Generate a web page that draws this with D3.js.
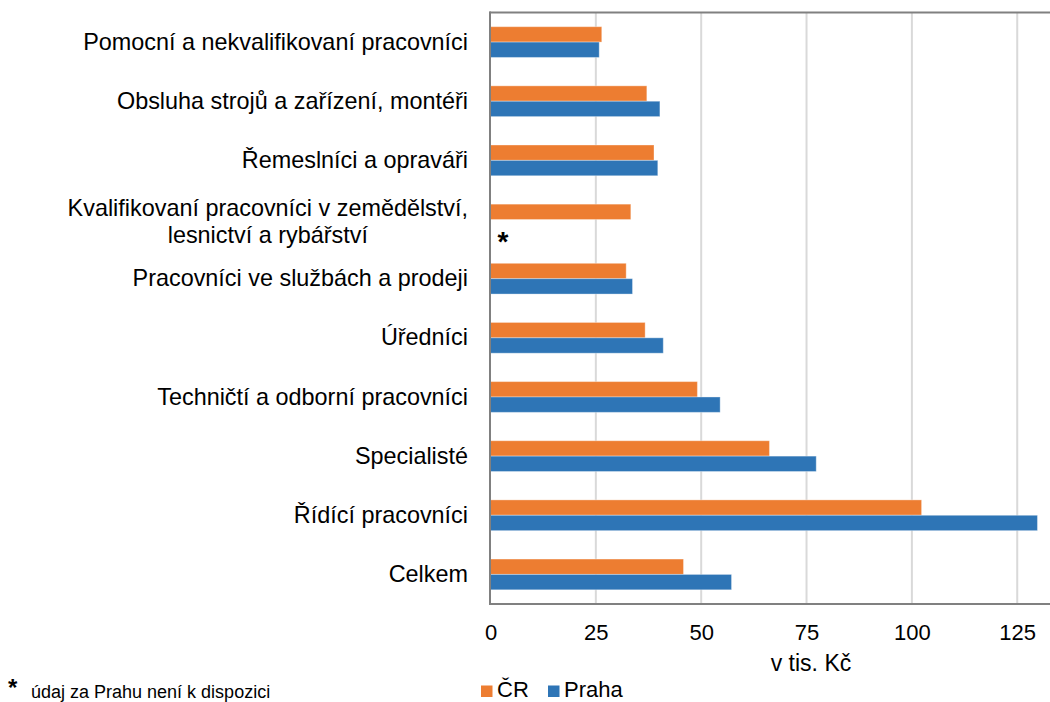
<!DOCTYPE html>
<html>
<head>
<meta charset="utf-8">
<script src="https://cdn.jsdelivr.net/npm/d3@7"></script>
<style>
  html, body { margin: 0; padding: 0; background: #ffffff; }
  svg { display: block; font-family: Arial, "Liberation Sans", sans-serif; }
</style>
</head>
<body>
<svg id="chart" width="1050" height="702"></svg>
<script>
// ---- data ----
const categories = [
  "Pomocní a nekvalifikovaní pracovníci",
  "Obsluha strojů a zařízení, montéři",
  "Řemeslníci a opraváři",
  "Kvalifikovaní pracovníci v zemědělství,\nlesnictví a rybářství",
  "Pracovníci ve službách a prodeji",
  "Úředníci",
  "Techničtí a odborní pracovníci",
  "Specialisté",
  "Řídící pracovníci",
  "Celkem"
];
const seriesNames = ["ČR", "Praha"];
const valuesCR    = [26.4, 37.1, 38.8, 33.3, 32.2, 36.7, 49.1, 66.2, 102.3, 45.8];
const valuesPraha = [25.8, 40.2, 39.7, null, 33.7, 41.0, 54.5, 77.3, 129.8, 57.2];
const xTicks = [0, 25, 50, 75, 100, 125];
const axisTitle = "v tis. Kč";
const footnoteMark = "*";
const footnoteText = "údaj za Prahu není k dispozici";
const colors = ["#ED7D31", "#2E75B6"];

// ---- layout ----
const svg = d3.select("#chart");
const plotLeft = 490.5, plotTop = 12.5, plotBottom = 604, plotRight = 1038.3, edgeRight = 1050;

const x = d3.scaleLinear().domain([0, 130]).range([plotLeft, plotRight]);
const y = d3.scaleBand().domain(categories).range([plotTop, plotBottom])
  .paddingInner(0.48).paddingOuter(0.24);
const ySub = d3.scaleBand().domain(seriesNames).range([0, y.bandwidth()]);

// gridlines
svg.append("g").selectAll("line").data(xTicks.filter(t => t > 0)).join("line")
  .attr("x1", d => x(d)).attr("x2", d => x(d))
  .attr("y1", plotTop).attr("y2", plotBottom)
  .attr("stroke", "#d9d9d9").attr("stroke-width", 2);

// bars
const series = [valuesCR, valuesPraha];
const barG = svg.append("g");
series.forEach((vals, si) => {
  barG.append("g").selectAll("rect")
    .data(categories.map((c, i) => ({ c, v: vals[i] })).filter(d => d.v != null))
    .join("rect")
    .attr("x", x(0))
    .attr("y", d => y(d.c) + ySub(seriesNames[si]))
    .attr("width", d => x(d.v) - x(0))
    .attr("height", ySub.bandwidth())
    .attr("fill", colors[si])
    .attr("stroke", "rgba(255,255,255,0.35)")
    .attr("stroke-width", 1);
});

// missing data marker
const kvalIdx = valuesPraha.findIndex(v => v == null);
svg.append("text")
  .attr("x", x(0) + 7)
  .attr("y", y(categories[kvalIdx]) + ySub("Praha") + 31)
  .attr("font-size", 28).attr("font-weight", "bold").attr("fill", "#000")
  .text(footnoteMark);

// axis border lines
svg.append("line").attr("x1", plotLeft - 1).attr("x2", edgeRight)
  .attr("y1", plotTop).attr("y2", plotTop).attr("stroke", "#808080").attr("stroke-width", 2);
svg.append("line").attr("x1", plotLeft - 1).attr("x2", edgeRight)
  .attr("y1", plotBottom).attr("y2", plotBottom).attr("stroke", "#808080").attr("stroke-width", 2);
svg.append("line").attr("x1", plotLeft - 0.5).attr("x2", plotLeft - 0.5)
  .attr("y1", plotTop - 1).attr("y2", plotBottom + 1).attr("stroke", "#808080").attr("stroke-width", 2);

// x axis via d3.axisBottom
const xAxis = d3.axisBottom(x).tickValues(xTicks).tickSize(0).tickPadding(0);
const gx = svg.append("g").attr("transform", `translate(0,${plotBottom})`).call(xAxis);
gx.select(".domain").remove();
gx.selectAll("text")
  .attr("y", 36).attr("dy", null)
  .attr("font-size", 22).attr("font-family", "Arial, 'Liberation Sans', sans-serif")
  .attr("fill", "#000");

// axis title
svg.append("text").attr("x", 811).attr("y", 671).attr("text-anchor", "middle")
  .attr("font-size", 23).attr("fill", "#000").text(axisTitle);

// category labels
const labelRight = 468;
const lab = svg.append("g");
categories.forEach(c => {
  const lines = c.split("\n");
  const cy = y(c) + y.bandwidth() / 2;
  const t = lab.append("text").attr("font-size", 23.4).attr("fill", "#000");
  if (lines.length === 1) {
    t.attr("x", labelRight).attr("y", cy + 7.6).attr("text-anchor", "end").text(c);
  } else {
    const lh = 26.5;
    const first = cy + 10 - lh * (lines.length - 1) / 2;
    lines.forEach((l, i) => t.append("tspan").attr("y", first + i * lh).text(l));
    const ws = [];
    t.selectAll("tspan").each(function () { ws.push(this.getComputedTextLength()); });
    const cx = labelRight - d3.max(ws) / 2;
    t.attr("text-anchor", "middle").selectAll("tspan").attr("x", cx);
  }
});

// legend
const legend = svg.append("g");
const legItems = [{ name: seriesNames[0], sx: 481, tx: 497 }, { name: seriesNames[1], sx: 548, tx: 564 }];
legItems.forEach((d, i) => {
  legend.append("rect").attr("x", d.sx).attr("y", 685.5).attr("width", 11.5).attr("height", 11.5).attr("fill", colors[i]);
  legend.append("text").attr("x", d.tx).attr("y", 697).attr("font-size", 22).attr("fill", "#000").text(d.name);
});

// footnote
svg.append("text").attr("x", 8).attr("y", 696).attr("font-size", 24).attr("font-weight", "bold").text(footnoteMark);
svg.append("text").attr("x", 31).attr("y", 697.5).attr("font-size", 18).attr("fill", "#000").text(footnoteText);
</script>
</body>
</html>
